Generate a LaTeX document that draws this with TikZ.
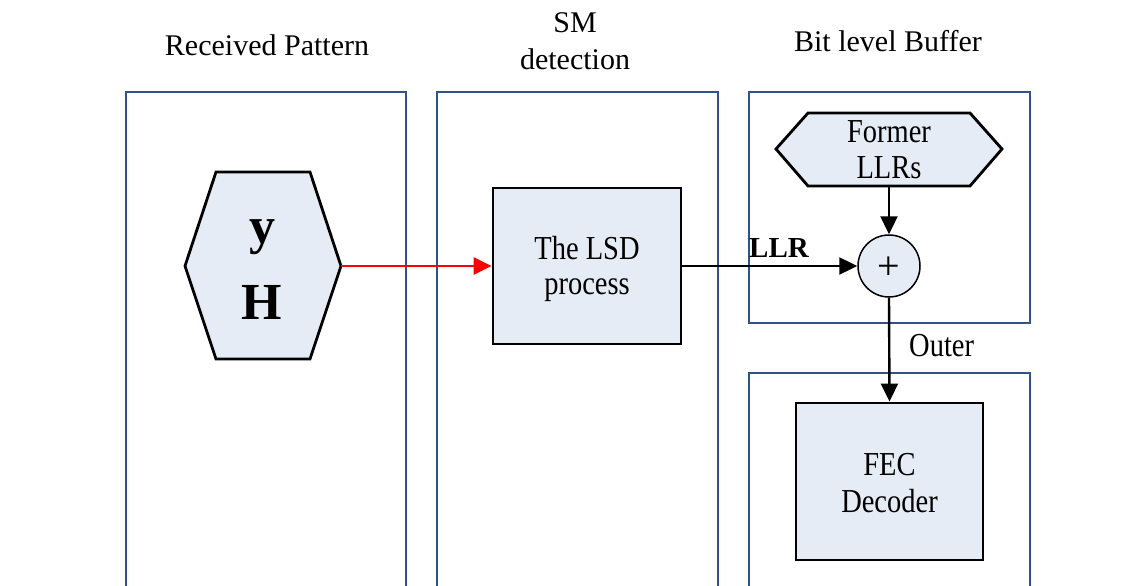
\documentclass[tikz,border=0pt]{standalone}
\usepackage{fontspec}
\setmainfont{Liberation Serif}
\newfontfamily\condfont[FakeStretch=0.85]{Liberation Serif}
\usetikzlibrary{arrows.meta}
\definecolor{boxblue}{HTML}{2F5289}
\definecolor{lightfill}{HTML}{E6ECF6}
\begin{document}
\begin{tikzpicture}[x=1pt,y=-1pt,
  container/.style={draw=boxblue, line width=2.4pt},
  shapeline/.style={fill=lightfill, draw=black, line width=2.8pt, line join=miter},
  blockbox/.style={shapeline, rectangle, inner sep=0pt, align=center},
  title/.style={font=\fontsize{30}{37}\selectfont, align=center, inner sep=0pt},
  btext/.style={font=\condfont\fontsize{33.5}{37}\selectfont, align=center, inner sep=0pt},
  arr/.style={line width=2.4pt, -{Triangle[length=18pt,width=17pt]}},
  redarr/.style={draw=red, line width=2.4pt, -{Triangle[length=18pt,width=17pt]}},
]
\useasboundingbox (0,0) rectangle (1141,586);
\fill[white] (0,0) rectangle (1141,586);

% containers
\begin{scope}
\clip (0,0) rectangle (1141,586);
\draw[container] (126,600) -- (126,92) -- (406,92) -- (406,600);
\draw[container] (437,600) -- (437,92) -- (718,92) -- (718,600);
\draw[container] (749,92) rectangle (1030,323);
\draw[container] (749,600) -- (749,373) -- (1030,373) -- (1030,600);
\end{scope}

% titles
\node[title, anchor=base] (t1) at (267,56) {Received Pattern};
\node[title, anchor=base] (t2a) at (575,33) {SM};
\node[title, anchor=base] (t2b) at (575,70) {detection};
\node[title, anchor=base] (t3) at (888,52) {Bit level Buffer};

% yH hexagon
\draw[shapeline] (185,266) -- (216,172) -- (310,172) -- (341,266) -- (310,359) -- (216,359) -- cycle;
\coordinate (yhR) at (341,266);
\node[font=\bfseries\fontsize{52}{60}\selectfont, anchor=base, inner sep=0pt] (yy) at (262,243) {y};
\node[font=\bfseries\fontsize{52}{60}\selectfont, anchor=base, inner sep=0pt] (hh) at (262,319) {H};

% LSD process
\node[blockbox, minimum width=188pt, minimum height=156pt] (lsd) at (587,266) {};
\node[btext, anchor=base] (lsd1) at (587,259) {The LSD};
\node[btext, anchor=base] (lsd2) at (587,294) {process};

% Former LLRs hexagon
\draw[shapeline] (776,149) -- (808,113) -- (970,113) -- (1002,149) -- (970,186) -- (808,186) -- cycle;
\coordinate (flB) at (889,186);
\node[btext, anchor=base] (fl1) at (889,142) {Former};
\node[btext, anchor=base] (fl2) at (889,178) {LLRs};

% adder
\node[circle, fill=lightfill, draw=black, line width=1.5pt, minimum size=62pt, inner sep=0pt] (add) at (889,266) {};
\node[font=\fontsize{40}{40}\selectfont, inner sep=0pt] (plus) at (889,268) {+};

% FEC decoder
\node[blockbox, minimum width=187pt, minimum height=157pt] (fec) at (889.5,481.5) {};
\node[btext, anchor=base] (fec1) at (889.5,475) {FEC};
\node[btext, anchor=base] (fec2) at (889.5,512) {Decoder};

% connectors
\draw[redarr] (yhR) -- (lsd.west);
\draw[arr] (lsd.east) -- (add.west);
\draw[arr] (flB) -- (add.north);
\draw[arr] (add.south) -- (fec.north);

% labels
\node[font=\bfseries\fontsize{29}{34}\selectfont, anchor=base west, inner sep=0pt] (llr) at (749,257) {LLR};
\node[btext, anchor=base west] (outer) at (909,356) {Outer};
\end{tikzpicture}
\end{document}
